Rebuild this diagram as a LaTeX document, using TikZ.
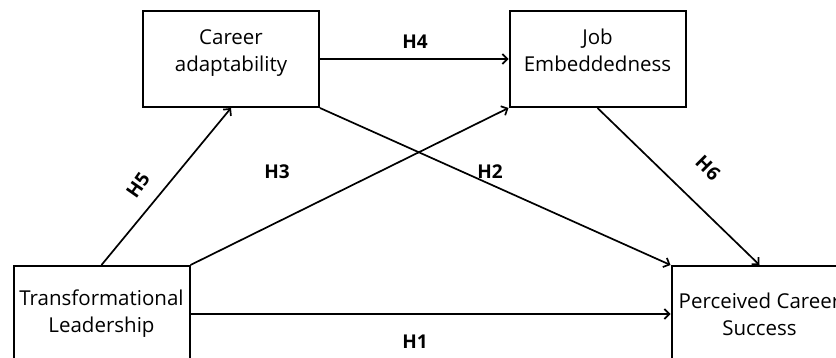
\documentclass[tikz,border=0pt]{standalone}
\usepackage{fontspec}
\setmainfont{Open Sans}
\usetikzlibrary{arrows.meta}

\tikzstyle{box}=[
  rectangle,
  draw,
  line width=2pt,
  minimum width=176pt,
  minimum height=96pt,
  inner sep=0pt,
  align=center,
  font=\fontsize{20.5}{27}\selectfont,
  ]
\tikzstyle{raised}=[ text depth=17pt ]
\tikzstyle{path edge}=[ line width=1.7pt, -{Straight Barb[length=5pt,width=10pt,line width=1.7pt]} ]
\tikzstyle{hyp}=[ font=\fontsize{19}{22}\selectfont\bfseries, inner sep=0pt ]

\begin{document}
\begin{tikzpicture}[x=1pt, y=-1pt]
    \useasboundingbox (0,0) rectangle (836,358);

    \node[box] (tl) at (101.5,314) {Transformational\\Leadership};
    \node[box, raised] (ca) at (231,59) {Career\\adaptability};
    \node[box, raised] (je) at (597.5,59) {Job\\Embeddedness};
    \node[box] (pcs) at (759.5,314) {Perceived Career\\Success};

    \draw[path edge] (tl.north) -- (ca.south);
    \draw[path edge] (tl.north east) -- (je.south west);
    \draw[path edge] (ca.east) -- (je.west);
    \draw[path edge] (ca.south east) -- (pcs.north west);
    \draw[path edge] (je.south) -- (pcs.north);
    \draw[path edge] (tl.east) -- (pcs.west);

    \node[hyp] (h1) at (415,342) {H1};
    \node[hyp] (h2) at (490,172) {H2};
    \node[hyp] (h3) at (277,172) {H3};
    \node[hyp] (h4) at (415,42) {H4};
    \node[hyp, rotate=55] (h5) at (138,185) {H5};
    \node[hyp, rotate=-45] (h6) at (708,168) {H6};
  \end{tikzpicture}
\end{document}
